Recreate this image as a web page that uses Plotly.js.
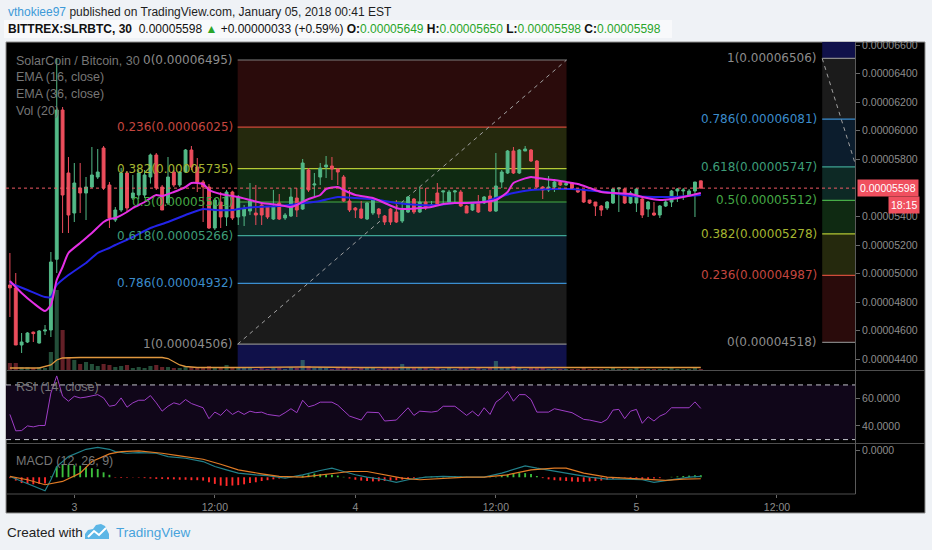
<!DOCTYPE html>
<html><head><meta charset="utf-8">
<script src="https://cdn.plot.ly/plotly-3.0.1.min.js"></script>
<style>html,body{margin:0;padding:0;background:#eff2f6;}#chart{width:932px;height:550px;}</style>
</head><body><div id="chart"></div>
<script>
// ---- DATA (prices in satoshi = 1e-8 BTC), 30-minute bars starting 2018-01-02 18:30 ----
const barStart = '2018-01-02T18:30:00Z';
const open  = [4920,4899,4500,4521,4590,4514,4598,4605,5100,6145,5704,5424,5599,5564,5606,5676,5879,5620,5375,5445,5704,5529,5550,5550,5676,5830,5606,5494,5711,5620,5711,5865,5746,5641,5606,5319,5501,5396,5571,5396,5403,5438,5424,5480,5466,5382,5494,5389,5403,5529,5452,5725,5620,5676,5746,5753,5732,5676,5508,5459,5452,5382,5424,5452,5403,5452,5431,5368,5431,5522,5431,5501,5473,5564,5571,5501,5571,5571,5473,5445,5494,5494,5543,5438,5641,5704,5858,5704,5858,5865,5788,5606,5585,5606,5641,5620,5634,5592,5585,5515,5501,5473,5459,5494,5592,5592,5494,5494,5522,5452,5424,5410,5473,5501,5578,5578,5550,5578,5649];
const high  = [5144,5004,4584,4590,4594,4605,4640,5151,6510,6166,5816,5774,5774,5676,5886,5872,5893,5641,5466,5739,5718,5690,5725,5725,5840,5844,5620,5816,5725,5718,5872,5893,5809,5655,5627,5529,5571,5585,5580,5550,5480,5634,5620,5490,5473,5585,5557,5424,5599,5599,5802,5739,5704,5774,5823,5816,5739,5690,5585,5466,5508,5501,5529,5459,5410,5459,5515,5501,5543,5529,5606,5599,5508,5634,5580,5585,5585,5585,5480,5501,5550,5543,5585,5844,5725,5865,5886,5872,5893,5872,5795,5613,5683,5648,5648,5648,5641,5592,5592,5515,5501,5480,5508,5599,5599,5599,5578,5599,5529,5508,5501,5480,5515,5585,5599,5599,5592,5641,5650];
const low   = [4696,4500,4444,4514,4521,4510,4570,4556,5004,5284,5284,5361,5424,5375,5599,5662,5585,5319,5361,5431,5431,5515,5520,5529,5630,5585,5445,5480,5606,5606,5704,5725,5571,5361,5312,5305,5319,5333,5375,5340,5333,5410,5340,5340,5382,5375,5375,5375,5396,5396,5445,5571,5529,5620,5669,5655,5620,5501,5431,5389,5382,5375,5410,5389,5340,5340,5354,5354,5424,5417,5424,5445,5466,5473,5492,5494,5501,5466,5424,5438,5424,5487,5431,5431,5599,5697,5697,5697,5858,5781,5599,5522,5571,5571,5613,5615,5585,5564,5494,5487,5403,5403,5445,5487,5431,5487,5487,5431,5389,5396,5403,5389,5466,5466,5501,5515,5543,5396,5598];
const close = [4900,4500,4521,4584,4580,4598,4605,5081,6145,5550,5410,5634,5564,5606,5690,5711,5599,5389,5445,5704,5459,5564,5704,5690,5830,5599,5445,5676,5620,5711,5865,5746,5641,5606,5319,5515,5396,5571,5389,5536,5452,5508,5410,5410,5396,5466,5382,5410,5536,5445,5774,5585,5627,5739,5760,5732,5711,5508,5445,5445,5389,5494,5515,5417,5361,5361,5361,5445,5536,5431,5501,5459,5480,5480,5578,5571,5578,5473,5424,5494,5431,5536,5438,5613,5711,5858,5704,5865,5872,5788,5606,5585,5606,5641,5620,5630,5592,5571,5501,5494,5473,5445,5501,5592,5599,5494,5564,5592,5410,5501,5410,5473,5501,5578,5592,5585,5578,5641,5598];
// volume, thousand SLR per bar
const volume = [7,7,3,3,2,3,2,18,80,40,13,10,6,8,6,4,6,5,3,4,5,2,3,2,4,5,3,3,2,2,4,3,2,3,4,3,2,5,3,2,2,2,1,2,1,2,2,1,3,2,10,4,2,3,2,1,2,3,2,1,2,2,2,1,2,2,3,6,3,2,2,2,1,2,1,2,1,2,2,1,2,1,2,9,3,3,4,2,1,2,3,2,1,1,1,1,1,1,2,1,1,1,1,2,1,1,1,2,1,1,1,1,1,2,1,1,1,2,1];
const volMaBar = [0,5,7,8,9,12,20,26,27,28,29,30,32,40,50,60,70,84,90,100,118];
const volMa    = [2,2,5,10,12,12.5,12.5,12.5,11.5,8,5,3.5,2.5,2.5,3,2.5,2.5,3,3,2.5,2.5];
// EMA lines (bar index, satoshi)
const ema16Bar = [0,2,4,6,7,8,9,10,12,14,16,17,18,20,21,23,25,26,28,30,31,33,34,36,38,39,41,43,46,48,49,51,53,54,56,57,59,62,64,66,67,70,72,74,76,78,81,83,85,86,89,90,93,95,97,99,101,103,106,108,111,113,115,118];
const ema16    = [4948,4864,4794,4738,4780,4955,5046,5144,5214,5284,5361,5382,5389,5431,5459,5501,5550,5543,5571,5606,5634,5627,5585,5557,5543,5536,5515,5494,5480,5466,5480,5522,5550,5592,5606,5585,5550,5529,5494,5459,5452,5459,5466,5487,5494,5494,5501,5515,5571,5634,5676,5669,5655,5641,5627,5599,5571,5564,5557,5536,5515,5522,5536,5564];
const ema36Bar = [0,3,6,7,8,10,13,15,17,18,21,24,27,30,33,35,38,39,42,46,49,53,56,59,63,66,70,73,76,78,81,83,86,89,93,96,100,103,106,110,113,118];
const ema36    = [4934,4885,4836,4836,4920,4990,5074,5144,5179,5200,5256,5319,5361,5410,5452,5445,5445,5452,5466,5473,5487,5508,5536,5529,5515,5494,5480,5480,5494,5494,5501,5529,5564,5585,5592,5592,5578,5564,5543,5536,5536,5550];
// RSI (14)
const rsiBar = [0,1,2,3,4,5,6,7,8,9,10,11,12,13,15,16,17,18,19,20,21,22,23,24,25,26,27,28,29,30,31,33,34,35,36,37,38,39,40,41,42,43,44,46,47,48,49,50,51,52,53,55,56,58,60,61,63,64,66,68,69,70,72,73,74,76,78,79,80,81,82,83,84,85,86,87,88,89,90,92,93,95,96,98,99,101,102,103,104,105,106,107,108,109,110,111,112,113,115,116,117,118];
const rsi    = [48.4,36.4,36.6,40.0,39.3,40.3,40.3,64.1,76.6,61.7,58.1,61.7,60.5,61.1,62.9,60.5,54.4,55.2,60.5,53.7,56.9,58.8,58.8,62.2,56.9,50.8,54.4,56.9,55.7,59.3,56.4,53.3,45.3,50.1,47.7,52.1,48.4,50.8,48.4,50.8,49.7,50.1,48.4,47.2,49.7,52.6,49.7,58.8,54.0,55.2,57.4,57.4,55.2,47.2,44.3,50.1,49.7,43.6,44.3,53.3,47.7,50.8,50.1,50.8,54.4,54.4,47.7,50.8,47.2,53.3,48.4,57.4,60.5,65.3,58.1,62.9,62.9,59.3,50.1,50.1,52.6,50.8,49.7,44.8,44.3,42.4,44.8,51.6,52.1,45.3,50.8,52.1,41.9,46.7,43.6,47.2,49.1,53.3,53.3,53.3,57.6,52.8];
// MACD (12, 26, 9) in satoshi
const macdBar = [0,2,4,6,7,8,10,12,13,15,17,18,20,22,25,27,30,33,35,37,39,42,44,47,50,53,55,57,59,61,64,66,68,71,74,78,81,84,86,88,90,93,96,99,102,105,108,110,113,116,118];
const macd    = [10,-50,-110,-162,-30,130,250,310,338,362,338,310,290,298,290,250,230,190,130,90,50,30,20,-10,30,82,110,70,30,2,-30,-62,-30,2,10,2,2,50,98,138,110,70,38,2,-22,-22,-30,-62,-30,2,10];
const signalBar = [0,3,6,9,12,14,17,19,22,26,29,33,36,39,43,46,50,53,58,61,64,67,70,74,78,81,85,89,93,95,98,102,105,109,112,115,118];
const signal    = [10,-30,-90,-50,50,190,282,310,318,290,258,218,158,90,42,10,2,30,70,70,30,-10,-30,-10,2,2,30,90,110,110,50,2,-10,-22,-38,-22,-18];
const hist = [-10,-40,-70,-80,-85,-80,-75,10,130,150,150,145,140,120,110,100,60,30,-5,-8,-5,-3,-5,-10,-15,-20,-20,-25,-25,-30,-30,-35,-35,-40,-60,-80,-100,-105,-100,-95,-85,-70,-60,-45,-35,-25,-15,-5,5,10,20,35,45,40,35,30,20,5,-15,-30,-40,-45,-50,-48,-45,-40,-35,-28,-20,-12,-5,5,10,15,15,12,10,8,5,3,2,2,3,5,20,35,45,50,50,40,15,-10,-25,-35,-40,-45,-50,-55,-55,-50,-45,-40,-30,-20,-10,-5,-10,-15,-20,-20,-15,-10,0,5,10,15,20,25,25];
// Fibonacci retracement drawings
const fibLevels = [0, 0.236, 0.382, 0.5, 0.618, 0.786, 1];
const leftFibPrices  = [6495, 6025, 5735, 5501, 5266, 4932, 4506];
const rightFibPrices = [4518, 4987, 5278, 5512, 5747, 6081, 6506];
const leftFibExt = 3277, rightFibExt = 7735; // 1.618 levels
const leftFibTime  = ['2018-01-03 13:57', '2018-01-04 18:02'];
const rightFibTime = ['2018-01-05 15:52', '2018-01-05 23:28'];
const lastPrice = 5598;
// price-scale labels visible in the picture (0.00005600 is hidden under the last-price tag)
const priceTicks = [4400, 4600, 4800, 5000, 5200, 5400, 5800, 6000, 6200, 6400, 6600];
const timeTicks = ['2018-01-03 00:00','2018-01-03 12:00','2018-01-04 00:00','2018-01-04 12:00','2018-01-05 00:00','2018-01-05 12:00'];
const timeTickText = ['3','12:00','4','12:00','5','12:00'];

// ---- build ----
const S = 1e-8, W = 932, H = 550;
const T0 = Date.parse(barStart);
const tm = i => new Date(T0 + i * 1800000).toISOString().slice(0, 16).replace('T', ' ');
const px = x => x / W, py = y => 1 - y / H;
const xs = open.map((_, i) => tm(i));
const sc = a => a.map(v => v * S);
const fmt = p => (p * S).toFixed(8);

const fibLine = ['#7f7f7f','#cf4b3a','#b5c935','#47ad47','#3fa595','#3b8ed0','#8a8a8a'];
const fibBand = ['#2a0b0b','#25290d','#0f2a12','#0d2925','#0c1d2d','#1b1b1b','#10114a'];
const fibText = ['#8c8c8c','#c4463f','#a5b531','#45a845','#3d9d78','#3b8ccb','#8c8c8c'];

const traces = [
  {type:'bar', x: xs, y: volume, xaxis:'x', yaxis:'y2', width: 1800000*0.7,
   marker:{color: volume.map((_, i) => close[i] >= open[i] ? 'rgba(83,185,135,0.42)' : 'rgba(235,77,92,0.42)'), line:{width:0}}, hoverinfo:'skip'},
  {type:'scatter', mode:'lines', x: volMaBar.map(tm), y: volMa, xaxis:'x', yaxis:'y2', line:{color:'#e0973f', width:1.3}, hoverinfo:'skip'},
  {type:'candlestick', x: xs, open: sc(open), high: sc(high), low: sc(low), close: sc(close), xaxis:'x', yaxis:'y',
   increasing:{line:{color:'#53b987', width:1}, fillcolor:'#53b987'},
   decreasing:{line:{color:'#eb4d5c', width:1}, fillcolor:'#eb4d5c'}, whiskerwidth:0, hoverinfo:'skip'},
  {type:'scatter', mode:'lines', x: ema36Bar.map(tm), y: sc(ema36), xaxis:'x', yaxis:'y', line:{color:'#2323e8', width:2, shape:'spline', smoothing:0.6}, hoverinfo:'skip'},
  {type:'scatter', mode:'lines', x: ema16Bar.map(tm), y: sc(ema16), xaxis:'x', yaxis:'y', line:{color:'#e52fe5', width:2, shape:'spline', smoothing:0.6}, hoverinfo:'skip'},
  {type:'scatter', mode:'lines', x: rsiBar.map(tm), y: rsi, xaxis:'x', yaxis:'y3', line:{color:'#9e3dc6', width:1}, hoverinfo:'skip'},
  {type:'bar', x: xs, y: hist, xaxis:'x', yaxis:'y4', width: 1800000*0.32,
   marker:{color: hist.map(v => v >= 0 ? '#3cbf3c' : '#ff2a2a'), line:{width:0}}, hoverinfo:'skip'},
  {type:'scatter', mode:'lines', x: macdBar.map(tm), y: macd, xaxis:'x', yaxis:'y4', line:{color:'#22808a', width:1.2}, hoverinfo:'skip'},
  {type:'scatter', mode:'lines', x: signalBar.map(tm), y: signal, xaxis:'x', yaxis:'y4', line:{color:'#e07b25', width:1.2}, hoverinfo:'skip'}
];

const shapes = [];
shapes.push({type:'rect', xref:'paper', yref:'paper', x0:px(6), x1:px(925), y0:py(513), y1:py(42), fillcolor:'#000000', line:{color:'#8e8e8e', width:1}, layer:'below'});
shapes.push({type:'rect', xref:'paper', yref:'paper', x0:px(4), x1:px(672), y0:py(38), y1:py(20), fillcolor:'#f8f9fb', line:{width:0}, layer:'below'});

function addFib(prices, ext, times) {
  const bounds = prices.concat([ext]);
  for (let k = 0; k < bounds.length - 1; k++) {
    shapes.push({type:'rect', xref:'x', yref:'y', x0:times[0], x1:times[1], y0:bounds[k]*S, y1:bounds[k+1]*S,
      fillcolor: fibBand[k], line:{width:0}, layer:'below'});
  }
  prices.forEach((p, k) => {
    shapes.push({type:'line', xref:'x', yref:'y', x0:times[0], x1:times[1], y0:p*S, y1:p*S,
      line:{color: fibLine[k], width:1.2}, layer:'below'});
  });
  shapes.push({type:'line', xref:'x', yref:'y', x0:times[0], x1:times[1], y0:prices[6]*S, y1:prices[0]*S,
    line:{color:'#a0a0a0', width:1, dash:'4px,4px'}, layer:'below'});
}
addFib(leftFibPrices, leftFibExt, leftFibTime);
addFib(rightFibPrices, rightFibExt, rightFibTime);

shapes.push({type:'line', xref:'x domain', yref:'y', x0:0, x1:1, y0:lastPrice*S, y1:lastPrice*S, line:{color:'#ef5a65', width:1, dash:'dot'}});
shapes.push({type:'rect', xref:'x domain', yref:'y3', x0:0, x1:1, y0:30, y1:70, fillcolor:'#100619', line:{width:0}, layer:'below'});
[70, 30].forEach(v => shapes.push({type:'line', xref:'x domain', yref:'y3', x0:0, x1:1, y0:v, y1:v, line:{color:'#c2c2cc', width:1, dash:'5px,4px'}}));
const sep = '#4e4e4e';
shapes.push({type:'line', xref:'paper', yref:'paper', x0:px(6), x1:px(925), y0:py(370.5), y1:py(370.5), line:{color:sep, width:1}});
shapes.push({type:'line', xref:'paper', yref:'paper', x0:px(6), x1:px(925), y0:py(443.5), y1:py(443.5), line:{color:sep, width:1}});
shapes.push({type:'line', xref:'paper', yref:'paper', x0:px(6), x1:px(855.5), y0:py(494), y1:py(494), line:{color:sep, width:1}});
shapes.push({type:'line', xref:'paper', yref:'paper', x0:px(855.5), x1:px(855.5), y0:py(42), y1:py(494), line:{color:'#5a5a5a', width:1}});
const lp = pts => 'M ' + pts.map(p => px(p[0]) + ',' + py(p[1])).join(' L ') + ' Z';
shapes.push({type:'path', xref:'paper', yref:'paper', path: lp([[85,539],[85,534],[88,530],[93,529],[96,525],[101,524],[105,526],[107,530],[109,534],[109,539]]), fillcolor:'#5cb6e6', line:{width:0}});
shapes.push({type:'path', xref:'paper', yref:'paper', path: 'M '+px(88)+','+py(537)+' L '+px(94)+','+py(531)+' L '+px(99)+','+py(535)+' L '+px(106)+','+py(528), line:{color:'#ffffff', width:2}});

const ann = [];
const A = o => ann.push(Object.assign({showarrow:false, xanchor:'left', yanchor:'middle'}, o));
const HF = 'Liberation Sans, Arial, sans-serif';
A({xref:'paper', yref:'paper', x:px(6), y:py(12), font:{family:HF, size:12, color:'#1e1e1e'},
   text:"<span style='color:#3d9ad8'>vthokiee97</span> published on TradingView.com, January 05, 2018 00:41 EST"});
const G = v => "<span style='color:#2aa52a'>" + v + "</span>";
A({xref:'paper', yref:'paper', x:px(6), y:py(29), font:{family:HF, size:12, color:'#111111'},
   text:"<b>BITTREX:SLRBTC, 30</b>  0.00005598 <span style='color:#2aa52a'>▲</span> +0.00000033 (+0.59%) <b>O:</b>" + G('0.00005649') +
        " <b>H:</b>" + G('0.00005650') + " <b>L:</b>" + G('0.00005598') + " <b>C:</b>" + G('0.00005598')});
const paneLbl = [['SolarCoin / Bitcoin, 30', 61], ['EMA (16, close)', 77], ['EMA (36, close)', 94], ['Vol (20)', 111], ['RSI (14, close)', 387], ['MACD (12, 26, 9)', 461]];
paneLbl.forEach(([t, y]) => A({xref:'paper', yref:'paper', x:px(14), y:py(y), text:t, font:{family:HF, size:12.5, color:'#767676'}}));

function fibLabels(prices, t0, shift) {
  prices.forEach((p, k) => A({xref:'x', yref:'y', x:t0, y:p*S, xanchor:'right', xshift:shift,
    text: fibLevels[k] + '(' + fmt(p) + ')', font:{family:'DejaVu Sans, sans-serif', size:12, color: fibText[k]}}));
}
fibLabels(leftFibPrices, leftFibTime[0], -3);
fibLabels(rightFibPrices, rightFibTime[0], -3);

A({xref:'paper', yref:'y', x:px(857), y:lastPrice*S, text:fmt(lastPrice), bgcolor:'#f0505f', borderpad:2, font:{family:HF, size:10.5, color:'#ffffff'}});
A({xref:'paper', yref:'y', x:px(920), y:lastPrice*S, yshift:-17, xanchor:'right', text:'18:15', bgcolor:'#f0505f', borderpad:2, font:{family:HF, size:10.5, color:'#ffffff'}});
A({xref:'paper', yref:'paper', x:px(5), y:py(532), text:'Created with', font:{family:HF, size:13.5, color:'#222222'}});
A({xref:'paper', yref:'paper', x:px(114), y:py(532), text:'TradingView', font:{family:HF, size:13.5, color:'#47a3dc'}});

const axFont = {family:HF, size:10.5, color:'#8d8d8d'};
const layout = {
  width: W, height: H, margin:{l:0, r:0, t:0, b:0},
  paper_bgcolor:'#eff2f6', plot_bgcolor:'#000000', showlegend:false, hovermode:false,
  barmode:'overlay', boxgap:0.3,
  xaxis:{domain:[px(6), px(855)], anchor:'y4', type:'date', range:['2018-01-02 18:10','2018-01-05 18:40'],
    tickmode:'array', tickvals: timeTicks, ticktext: timeTickText, ticks:'outside', ticklen:3, tickcolor:'#6a6a6a',
    tickfont: axFont, showgrid:false, zeroline:false, showline:false, rangeslider:{visible:false}, fixedrange:true},
  yaxis:{domain:[py(370), py(42)], anchor:'x', side:'right', range:[4325*S, 6621*S], tickmode:'array',
    tickvals: priceTicks.map(v => v*S), ticktext: priceTicks.map(fmt),
    ticks:'outside', ticklen:4, tickcolor:'#6a6a6a', tickfont: axFont, showgrid:false, zeroline:false, fixedrange:true},
  yaxis2:{overlaying:'y', anchor:'x', range:[0, 328], visible:false, fixedrange:true},
  yaxis3:{domain:[py(443), py(371)], anchor:'x', side:'right', range:[27.5, 80.2], tickmode:'array', tickvals:[40, 60], ticktext:['40.0000','60.0000'],
    ticks:'outside', ticklen:4, tickcolor:'#6a6a6a', tickfont: axFont, showgrid:false, zeroline:false, fixedrange:true},
  yaxis4:{domain:[py(494), py(444)], anchor:'x', side:'right', range:[-202, 402], tickmode:'array', tickvals:[322], ticktext:['0.0000'],
    ticks:'outside', ticklen:4, tickcolor:'#6a6a6a', tickfont: axFont, showgrid:false, zeroline:false, fixedrange:true},
  shapes: shapes, annotations: ann
};
Plotly.newPlot('chart', traces, layout, {displayModeBar:false, staticPlot:true});
</script></body></html>
